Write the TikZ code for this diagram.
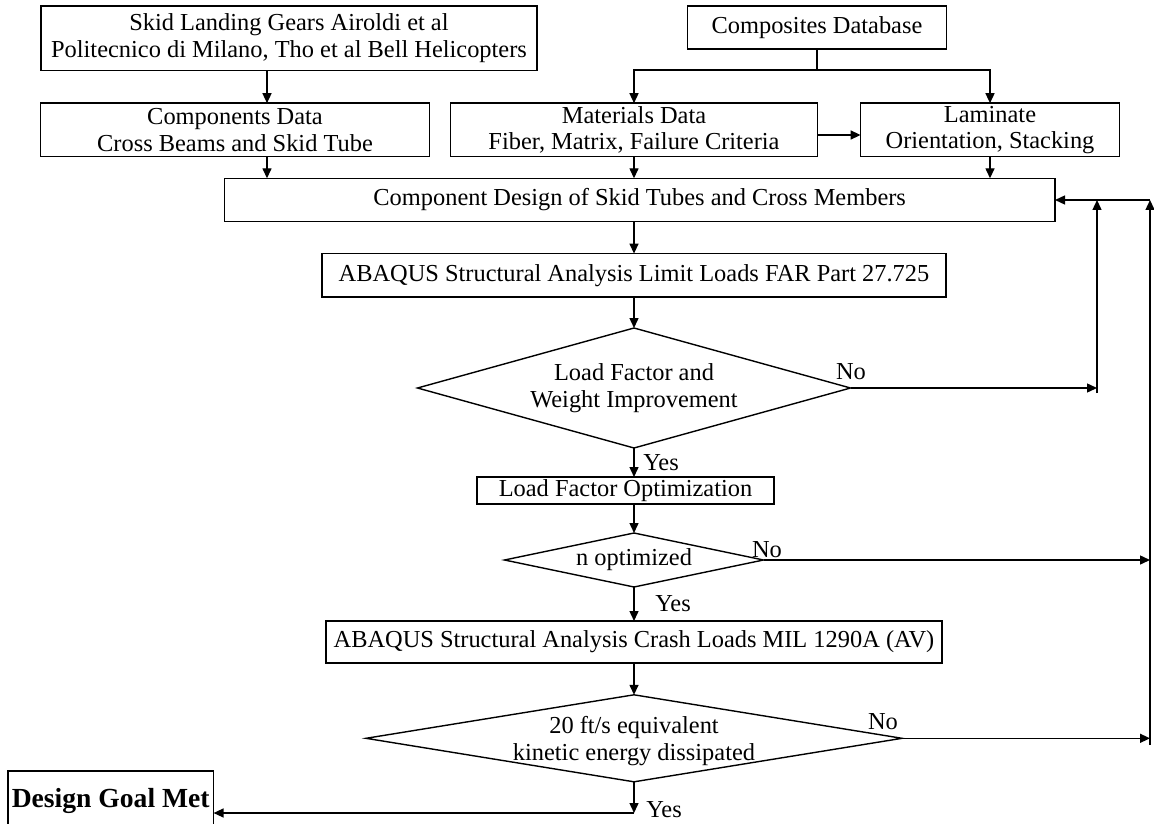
\documentclass[tikz,border=0pt]{standalone}
\usepackage{fontspec}
\setmainfont{Liberation Serif}
\usetikzlibrary{arrows.meta,shapes.geometric}

\begin{document}
\begin{tikzpicture}[x=0.5pt,y=-0.5pt,line width=0.7pt,
  >={Triangle[length=5pt,width=4.5pt]},
  font=\fontsize{12.2}{13.4}\selectfont,
  box/.style={draw,rectangle,align=center,inner xsep=2pt,inner ysep=0.5pt,outer sep=0pt},
  dec/.style={draw,diamond,align=center,inner sep=0pt,outer sep=0pt},
  lbl/.style={inner sep=0pt}]
\useasboundingbox (0,0) rectangle (1154,823);
\clip (0,0) rectangle (1154,823);
\node[box,minimum width=248pt,minimum height=32.3pt] (skid) at (289,38.3) {Skid Landing Gears Airoldi et al\\Politecnico di Milano, Tho et al Bell Helicopters};
\node[box,minimum width=129.3pt,minimum height=21.5pt] (compdb) at (817,27.5) {Composites Database};
\node[box,minimum width=194.3pt,minimum height=26.8pt] (compdata) at (235,130) {Components Data\\Cross Beams and Skid Tube};
\node[box,minimum width=183.4pt,minimum height=26.8pt] (matdata) at (634,130) {Materials Data\\Fiber, Matrix, Failure Criteria};
\node[box,minimum width=129.4pt,minimum height=26.8pt] (laminate) at (990,130) {Laminate\\Orientation, Stacking};
\node[box,minimum width=415.3pt,minimum height=21.5pt] (design) at (639.7,199.8) {Component Design of Skid Tubes and Cross Members};
\node[box,minimum width=312pt,minimum height=21.7pt] (abqlimit) at (634,275.3) {ABAQUS Structural Analysis Limit Loads FAR Part 27.725};
\node[dec,aspect=3.6,minimum width=216.5pt,minimum height=60pt] (lfcheck) at (634,388) {Load Factor and\\Weight Improvement};
\node[box,minimum width=148.5pt,minimum height=13.5pt] (lfopt) at (625.5,490.5) {Load Factor Optimization};
\node[dec,aspect=4.8,minimum width=129.5pt,minimum height=27pt] (nopt) at (634,560) {n optimized};
\node[box,minimum width=308pt,minimum height=21pt] (abqcrash) at (634,642) {ABAQUS Structural Analysis Crash Loads MIL 1290A (AV)};
\node[dec,minimum width=268pt,minimum height=43.5pt] (kecheck) at (634,738.3) {};
\node[align=center,inner sep=0pt] (ketext) at (634,741) {20 ft/s equivalent\\kinetic energy dissipated};
\node[box,font=\fontsize{13.8}{15}\selectfont\bfseries,minimum width=102.7pt,minimum height=29.5pt] (goal) at (110.7,800.5) {Design Goal Met};

\node[lbl] (no1) at (851,372) {No};
\node[lbl] (no2) at (767,550) {No};
\node[lbl] (no3) at (883,722) {No};
\node[lbl] (yes1) at (661,463) {Yes};
\node[lbl] (yes2) at (673,604) {Yes};
\node[lbl] (yes3) at (664,810) {Yes};

\coordinate (gearline) at (267,0);
\coordinate (split) at (817,70);
\coordinate (axis) at (634,0);
\coordinate (loopin) at (1097,393);
\coordinate (looptop) at (1097,200);
\coordinate (backin) at (1150,745);
\coordinate (backtop) at (1150,200);
\coordinate (turn) at (634,813);

\draw[->] (skid.south -| gearline) -- (compdata.north -| gearline);
\draw (compdb.south) -- (split);
\draw[->] (split) -| (matdata.north);
\draw[->] (split) -| (laminate.north);
\draw[->] ([yshift=-2.5pt]matdata.east) -- ([yshift=-2.5pt]laminate.west);
\draw[->] (compdata.south -| gearline) -- (design.north -| gearline);
\draw[->] (matdata.south) -- (matdata.south |- design.north);
\draw[->] (laminate.south) -- (laminate.south |- design.north);
\draw[->] (design.south -| axis) -- (abqlimit.north);
\draw[->] (abqlimit.south) -- (lfcheck.north);
\draw[->] (lfcheck.south) -- (lfopt.north -| axis);
\draw[->] (lfopt.south -| axis) -- (nopt.north);
\draw[->] (nopt.south) -- (abqcrash.north);
\draw[->] (abqcrash.south) -- (kecheck.north);
\draw[->] (kecheck.south) -- (turn);
\draw[->] (turn) -- (goal.east |- turn);
\draw[->] (lfcheck.east) -- (lfcheck.east -| loopin);
\draw[->] (loopin) -- (looptop);
\draw[->] (nopt.east) -- (nopt.east -| backin);
\draw[->] (kecheck.east) -- (kecheck.east -| backin);
\draw[->] (backin) -- (backtop);
\draw[->] (backtop) -- (design.east |- backtop);
\end{tikzpicture}
\end{document}
